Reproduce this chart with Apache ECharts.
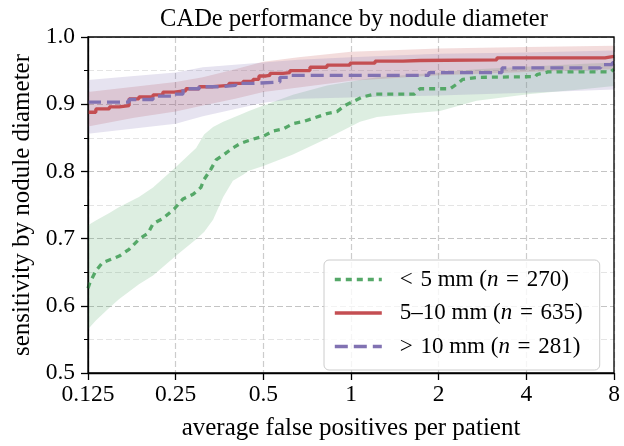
<!DOCTYPE html>
<html>
<head>
<meta charset="utf-8">
<script src="https://cdn.jsdelivr.net/npm/echarts@6/dist/echarts.min.js"></script>
<style>html,body{margin:0;padding:0;background:#fff}#c{width:624px;height:446px}</style>
</head>
<body>
<div id="c"></div>
<script>
// ---- data ----
const seriesNames = ['< 5 mm (n = 270)', '5–10 mm (n = 635)', '> 10 mm (n = 281)'];
const xTickValues = [0.125, 0.25, 0.5, 1, 2, 4, 8];
const xTickLabels = ['0.125', '0.25', '0.5', '1', '2', '4', '8'];
const yTickLabels = ['0.5', '0.6', '0.7', '0.8', '0.9', '1.0'];

const greenLine = [[0.125,0.626],[0.127,0.635],[0.133,0.652],[0.140,0.664],[0.160,0.674],[0.173,0.684],[0.187,0.699],[0.201,0.708],[0.209,0.722],[0.226,0.730],[0.247,0.744],[0.265,0.759],[0.287,0.766],[0.305,0.776],[0.313,0.788],[0.330,0.803],[0.344,0.817],[0.366,0.825],[0.393,0.835],[0.419,0.842],[0.461,0.848],[0.499,0.852],[0.540,0.860],[0.584,0.863],[0.632,0.871],[0.684,0.874],[0.752,0.880],[0.827,0.886],[0.895,0.889],[0.953,0.898],[1.016,0.904],[1.100,0.911],[1.209,0.915],[1.650,0.915],[1.726,0.923],[2.190,0.923],[2.310,0.930],[2.420,0.937],[2.750,0.940],[4.300,0.941],[4.350,0.944],[4.750,0.948],[7.750,0.948],[8,0.952]];
const redLine = [[0.125,0.888],[0.133,0.893],[0.148,0.896],[0.160,0.898],[0.173,0.908],[0.187,0.911],[0.209,0.914],[0.226,0.918],[0.247,0.920],[0.271,0.923],[0.301,0.926],[0.336,0.928],[0.381,0.931],[0.426,0.934],[0.461,0.937],[0.483,0.942],[0.511,0.943],[0.527,0.946],[0.584,0.947],[0.617,0.950],[0.723,0.955],[0.827,0.958],[0.992,0.961],[1.209,0.964],[1.509,0.965],[1.726,0.966],[3.17,0.969],[7.45,0.971],[8,0.971]];
const blueLine = [[0.125,0.903],[0.173,0.907],[0.209,0.912],[0.247,0.915],[0.265,0.923],[0.301,0.926],[0.352,0.928],[0.402,0.931],[0.461,0.933],[0.570,0.940],[0.620,0.943],[1.85,0.947],[3.30,0.954],[7.2,0.959],[7.9,0.962],[8,0.962]];

// bands: [x, lower, upper]
const greenBand = [[0.125,0.565,0.720],[0.133,0.578,0.727],[0.148,0.597,0.738],[0.160,0.610,0.747],[0.187,0.632,0.762],[0.209,0.645,0.776],[0.250,0.674,0.806],[0.294,0.699,0.835],[0.313,0.710,0.855],[0.336,0.728,0.866],[0.364,0.762,0.874],[0.393,0.786,0.880],[0.426,0.795,0.886],[0.446,0.801,0.890],[0.500,0.808,0.898],[0.632,0.825,0.914],[0.827,0.849,0.928],[1.074,0.874,0.936],[1.228,0.881,0.940],[1.594,0.886,0.944],[2.02,0.890,0.947],[2.70,0.905,0.952],[4.12,0.915,0.956],[6.11,0.922,0.960],[8,0.927,0.962]];
const redBand = [[0.125,0.867,0.918],[0.18,0.880,0.926],[0.25,0.889,0.933],[0.31,0.898,0.940],[0.40,0.908,0.952],[0.5,0.918,0.963],[0.66,0.925,0.970],[1.0,0.935,0.978],[2.0,0.943,0.983],[4.0,0.948,0.985],[8,0.952,0.987]];
const blueBand = [[0.125,0.856,0.936],[0.18,0.864,0.942],[0.25,0.871,0.947],[0.31,0.882,0.955],[0.5,0.902,0.962],[0.66,0.908,0.966],[1.0,0.910,0.970],[2.0,0.913,0.975],[4.0,0.917,0.977],[8,0.922,0.980]];

const colors = ['#55A868', '#C44E52', '#8172B2'];
const bandFills = ['rgba(85,168,104,0.2)', 'rgba(196,78,82,0.2)', 'rgba(129,114,178,0.2)'];
const FONT = 'Liberation Serif';

function bandSeries(band, fill) {
  return {
    type: 'custom', silent: true, z: 1,
    data: band,
    encode: { x: 0, y: 1 },
    renderItem: function (params, api) {
      if (params.dataIndex !== 0) return null;
      const pts = [];
      for (let i = 0; i < band.length; i++) pts.push(api.coord([band[i][0], band[i][2]]));
      for (let i = band.length - 1; i >= 0; i--) pts.push(api.coord([band[i][0], band[i][1]]));
      return { type: 'polygon', shape: { points: pts }, style: { fill: fill, stroke: null } };
    }
  };
}

const chart = echarts.init(document.getElementById('c'), null, { renderer: 'canvas' });
chart.setOption({
  animation: false,
  backgroundColor: '#fff',
  title: {
    text: 'CADe performance by nodule diameter',
    left: 349, textAlign: 'center', top: 2,
    textStyle: { fontFamily: FONT, fontSize: 24.5, fontWeight: 'normal', color: '#000' }
  },
  grid: { left: 88, right: 10, top: 37, bottom: 67, show: true, borderColor: '#000', borderWidth: 1.3, backgroundColor: 'transparent', z: 10 },
  legend: {
    data: seriesNames,
    orient: 'vertical',
    left: 324, top: 260,
    backgroundColor: 'rgba(255,255,255,0.8)',
    borderColor: '#cccccc', borderWidth: 1, borderRadius: 5,
    padding: [8, 17, 12, 9],
    itemWidth: 47, itemHeight: 25, itemGap: 10.5,
    itemStyle: { opacity: 0 },
    lineStyle: { width: 3.6 },
    selectedMode: false,
    formatter: function (name) {
      return name.replace('< ', '<\u2004').replace(' = ', '\u2004=\u2004').replace('> ', '>\u2004').replace('(n', '({i|n}');
    },
    textStyle: {
      fontFamily: FONT, fontSize: 23, color: '#000', padding: [0, 0, 0, 13],
      rich: { i: { fontFamily: FONT, fontSize: 23, fontStyle: 'italic', color: '#000' } }
    }
  },
  xAxis: {
    type: 'log', logBase: 2, min: 0.125, max: 8, splitNumber: 6,
    name: 'average false positives per patient', nameLocation: 'middle', nameGap: 43,
    nameTextStyle: { fontFamily: FONT, fontSize: 25, color: '#000' },
    axisLine: { show: true, lineStyle: { color: '#000', width: 1.3 } },
    axisTick: { show: true, inside: false, length: 7, lineStyle: { color: '#000', width: 1.3 } },
    axisLabel: {
      fontFamily: FONT, fontSize: 23.5, color: '#000', margin: 10,
      formatter: function (v) {
        let best = 0;
        for (let i = 0; i < xTickValues.length; i++) {
          if (Math.abs(Math.log2(xTickValues[i]) - Math.log2(v)) < Math.abs(Math.log2(xTickValues[best]) - Math.log2(v))) best = i;
        }
        return xTickLabels[best];
      }
    },
    splitLine: { show: true, lineStyle: { color: '#cccccc', type: [6, 3], width: 1.2 } },
    minorTick: { show: false }
  },
  yAxis: {
    type: 'value', min: 0.5, max: 1.0, interval: 0.1,
    name: 'sensitivity by nodule diameter', nameLocation: 'middle', nameGap: 50,
    nameTextStyle: { fontFamily: FONT, fontSize: 25, color: '#000' },
    axisLine: { show: true, lineStyle: { color: '#000', width: 1.3 } },
    axisTick: { show: true, inside: false, length: 7, lineStyle: { color: '#000', width: 1.3 } },
    minorTick: { show: true, splitNumber: 2, length: 4, lineStyle: { color: '#000', width: 1 } },
    minorSplitLine: { show: true, lineStyle: { color: '#e4e4e4', type: [6, 3], width: 1.2 } },
    axisLabel: {
      fontFamily: FONT, fontSize: 23.5, color: '#000', margin: 13,
      formatter: function (v) { return yTickLabels[Math.round((v - 0.5) * 10)]; }
    },
    splitLine: { show: true, lineStyle: { color: '#c4c4c4', type: [6, 3], width: 1.2 } }
  },
  series: [
    bandSeries(greenBand, bandFills[0]),
    bandSeries(redBand, bandFills[1]),
    bandSeries(blueBand, bandFills[2]),
    { name: seriesNames[0], type: 'line', data: greenLine, showSymbol: false, symbol: 'none', z: 3,
      lineStyle: { color: colors[0], width: 3.3, type: [6, 5], cap: 'butt' }, itemStyle: { color: colors[0] } },
    { name: seriesNames[1], type: 'line', step: 'end', data: redLine, showSymbol: false, symbol: 'none', z: 3,
      lineStyle: { color: colors[1], width: 3.3, type: 'solid' }, itemStyle: { color: colors[1] } },
    { name: seriesNames[2], type: 'line', step: 'end', data: blueLine, showSymbol: false, symbol: 'none', z: 3,
      lineStyle: { color: colors[2], width: 3.3, type: [13, 6], cap: 'butt' }, itemStyle: { color: colors[2] } }
  ]
});
</script>
</body>
</html>
